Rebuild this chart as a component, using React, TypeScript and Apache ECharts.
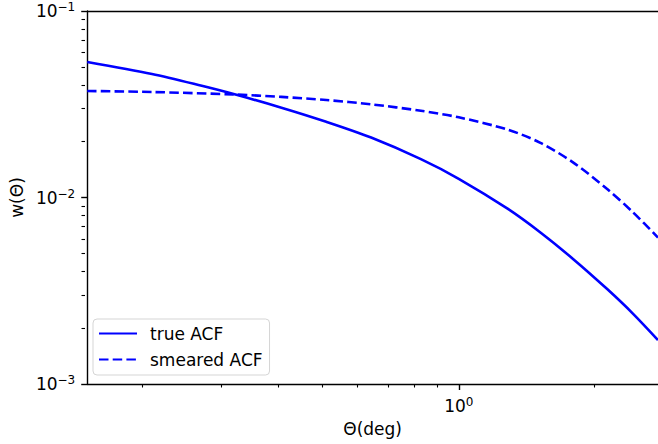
import React, { useEffect, useRef } from "react";
import * as echarts from "echarts";

const thetaTrue = [0.1496, 0.2083, 0.2687, 0.3178, 0.4039, 0.5078, 0.6389, 0.824, 1.0, 1.2835, 1.5184, 1.7965, 2.136, 2.439, 2.77];
const wTrue = [0.05326, 0.04595, 0.03971, 0.03576, 0.0303, 0.02546, 0.02096, 0.01606, 0.0126, 0.008709, 0.006492, 0.00467, 0.003228, 0.002379, 0.00172];

const thetaSmeared = [0.1496, 0.2083, 0.3178, 0.4039, 0.5078, 0.6389, 0.824, 1.0, 1.2835, 1.5184, 1.7965, 2.136, 2.439, 2.77];
const wSmeared = [0.03724, 0.03679, 0.03567, 0.03462, 0.03332, 0.0316, 0.02917, 0.02692, 0.02312, 0.01965, 0.01539, 0.01111, 0.008319, 0.006103];

const xMajorTicks = [1];
const xMinorTicks = [0.2, 0.3, 0.4, 0.5, 0.6, 0.7, 0.8, 0.9, 2];
const yMajorTicks = [0.001, 0.01, 0.1];
const yMinorTicks = [0.002, 0.003, 0.004, 0.005, 0.006, 0.007, 0.008, 0.009, 0.02, 0.03, 0.04, 0.05, 0.06, 0.07, 0.08, 0.09];

const seriesNames = ["true ACF", "smeared ACF"];
const xName = "Θ(deg)";
const yName = "w(Θ)";

const FONT = "DejaVu Sans";
const BLUE = "#0000ff";

const powLabel = (v: number) => {
  const e = Math.round(Math.log10(v));
  const s = e < 0 ? "\u2212" + String(-e) : String(e);
  return "{b|10}{s|" + s + "}";
};

const richStyle = {
  b: { fontSize: 17, fontFamily: FONT, color: "#000", lineHeight: 20 },
  s: { fontSize: 12, fontFamily: FONT, color: "#000", lineHeight: 14, verticalAlign: "top" },
};

export default function App() {
  const ref = useRef<HTMLDivElement>(null);
  useEffect(() => {
    if (!ref.current) return;
    const chart = echarts.init(ref.current, null, { renderer: "svg" });
    const xMin = 0.1496;
    const xMax = 2.77;
    const yMin = 0.001;
    const yMax = 0.1;
    const axisLineStyle = { color: "#000", width: 1.4 };
    chart.setOption({
      animation: false,
      backgroundColor: "#fff",
      grid: [
        { left: 85, right: 0, top: 11, bottom: 60, containLabel: false },
        { left: 85, right: 0, top: 11, bottom: 60, containLabel: false },
      ],
      legend: {
        data: seriesNames,
        orient: "vertical",
        left: 93,
        top: 319,
        itemWidth: 38,
        itemHeight: 14,
        itemGap: 9,
        padding: [6, 7, 7, 5],
        backgroundColor: "#ffffff",
        borderColor: "#d5d5d5",
        borderWidth: 1,
        borderRadius: 4,
        itemStyle: { opacity: 0 },
        textStyle: { fontSize: 17, fontFamily: FONT, color: "#000", lineHeight: 17, padding: [0, 0, 0, 8] },
      },
      xAxis: [
        {
          gridIndex: 0,
          type: "log",
          min: xMin,
          max: xMax,
          position: "bottom",
          axisLine: { show: true, lineStyle: axisLineStyle },
          axisTick: { show: true, customValues: xMajorTicks, length: 6, lineStyle: axisLineStyle },
          axisLabel: {
            show: true,
            customValues: xMajorTicks,
            margin: 12,
            formatter: powLabel,
            rich: richStyle,
          },
          splitLine: { show: false },
          name: xName,
          nameLocation: "middle",
          nameGap: 36,
          nameTextStyle: { fontSize: 17, fontFamily: FONT, color: "#000" },
        },
        {
          gridIndex: 0,
          type: "log",
          min: xMin,
          max: xMax,
          position: "top",
          axisLine: { show: true, lineStyle: axisLineStyle },
          axisTick: { show: false },
          axisLabel: { show: false },
          splitLine: { show: false },
        },
        {
          gridIndex: 1,
          type: "log",
          min: xMin,
          max: xMax,
          position: "bottom",
          axisLine: { show: false },
          axisTick: { show: true, customValues: xMinorTicks, length: 3.5, lineStyle: { color: "#000", width: 1.1 } },
          axisLabel: { show: false },
          splitLine: { show: false },
        },
      ],
      yAxis: [
        {
          gridIndex: 0,
          type: "log",
          min: yMin,
          max: yMax,
          position: "left",
          axisLine: { show: true, lineStyle: axisLineStyle },
          axisTick: { show: true, customValues: yMajorTicks, length: 6, lineStyle: axisLineStyle },
          axisLabel: {
            show: true,
            customValues: yMajorTicks,
            margin: 12,
            formatter: powLabel,
            rich: richStyle,
          },
          splitLine: { show: false },
          name: yName,
          nameLocation: "middle",
          nameGap: 56,
          nameTextStyle: { fontSize: 17, fontFamily: FONT, color: "#000" },
        },
        {
          gridIndex: 1,
          type: "log",
          min: yMin,
          max: yMax,
          position: "left",
          axisLine: { show: false },
          axisTick: { show: true, customValues: yMinorTicks, length: 3.5, lineStyle: { color: "#000", width: 1.1 } },
          axisLabel: { show: false },
          splitLine: { show: false },
        },
      ],
      series: [
        {
          name: seriesNames[0],
          type: "line",
          xAxisIndex: 0,
          yAxisIndex: 0,
          data: thetaTrue.map((t, i) => [t, wTrue[i]]),
          symbol: "none",
          smooth: 0.3,
          lineStyle: { color: BLUE, width: 2.6, type: "solid" },
          itemStyle: { color: BLUE },
        },
        {
          name: seriesNames[1],
          type: "line",
          xAxisIndex: 0,
          yAxisIndex: 0,
          data: thetaSmeared.map((t, i) => [t, wSmeared[i]]),
          symbol: "none",
          smooth: 0.3,
          lineStyle: { color: BLUE, width: 2.6, type: [9.5, 4.2] },
          itemStyle: { color: BLUE },
        },
      ],
    });
    return () => chart.dispose();
  }, []);
  return (
    <div
      ref={ref}
      style={{ position: "absolute", left: 0, top: 0, width: 658, height: 444 }}
    />
  );
}
